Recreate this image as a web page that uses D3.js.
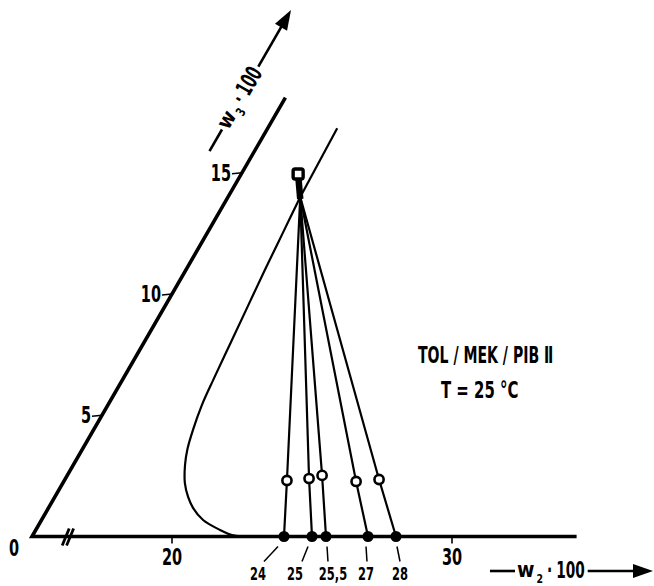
<!DOCTYPE html>
<html>
<head>
<meta charset="utf-8">
<script src="https://cdn.jsdelivr.net/npm/d3@7"></script>
<style>
  body { margin: 0; background: #fff; }
  text {
    font-family: "DejaVu Sans Condensed", "DejaVu Sans", sans-serif;
    font-weight: bold;
    fill: #000;
  }
</style>
</head>
<body>
<div id="chart"></div>
<script>
const width = 654;
const height = 586;

/* axes: w2 along the bottom, w3 along the 60 deg side */
const w2Ticks = [20, 30];
const w3Ticks = [5, 10, 15];
const w2Origin = 15; // drawn origin, labelled 0 (axis is broken)
const w2AxisEnd = 34.45;
const w2Break = 16.3;
const w3AxisEnd = 18.1;

/* tie lines: feed point on the w2 axis, open circle, common top */
const feedW2 = [24, 25, 25.5, 27, 28];
const feedLabels = ["24", "25", "25,5", "27", "28"];
const openW2 = [22.95, 23.7, 24.1, 25.44, 26.22];
const openW3 = [2.31, 2.39, 2.52, 2.27, 2.35];
const topW2 = 17.58;
const topW3 = 14.0;
const squareW2 = 17.04;
const squareW3 = 14.93;

/* binodal curve and its straight continuation */
const binodalW2 = [17.58, 17.7, 17.82, 17.96, 18.1, 18.24, 18.36, 18.55, 18.75,
  18.99, 19.36, 19.76, 20.16, 20.77, 21.58, 22.11, 22.5];
const binodalW3 = [14.0, 12.5, 11.0, 9.5, 8.0, 6.5, 5.4, 4.4, 3.6,
  2.95, 2.2, 1.63, 1.18, 0.68, 0.27, 0.06, 0];
const upperW2 = [17.58, 17.48];
const upperW3 = [14.0, 16.84];

const y0 = 536.5;
const squeeze = 0.7; // the lettering is narrow
const x = d3.scaleLinear().domain([20, 30]).range([172, 452]);
const r = d3.scaleLinear().domain([0, 10]).range([0, 280]);
const cos60 = Math.cos(Math.PI / 3),
  sin60 = Math.sin(Math.PI / 3);

function proj(w2, w3) {
  return [x(w2) + r(w3) * cos60, y0 - r(w3) * sin60];
}

// narrow a text element, returns the new length
function condense(el, f) {
  var len = el.getComputedTextLength() * (f || squeeze);
  d3.select(el).attr("textLength", len).attr("lengthAdjust", "spacingAndGlyphs");
  return len;
}

var svg = d3
  .select("#chart")
  .append("svg")
  .attr("width", width)
  .attr("height", height)
  .attr("viewBox", "0 0 " + width + " " + height);

var line = d3.line();

// axes
var gAxes = svg.append("g").attr("id", "axes");
gAxes
  .append("path")
  .attr("d", line([proj(w2Origin, w3AxisEnd), proj(w2Origin, 0), proj(w2AxisEnd, 0)]))
  .attr("fill", "none")
  .attr("stroke", "#000")
  .attr("stroke-width", 3.6)
  .attr("stroke-linejoin", "miter");

// break mark on the w2 axis
var bx = x(w2Break);
[-2.2, 2.2].forEach(function (o) {
  gAxes
    .append("line")
    .attr("x1", bx + o - 4)
    .attr("y1", y0 + 9)
    .attr("x2", bx + o + 3)
    .attr("y2", y0 - 8)
    .attr("stroke", "#000")
    .attr("stroke-width", 2.8);
});

gAxes
  .selectAll(".w2tick")
  .data(w2Ticks)
  .enter()
  .append("line")
  .attr("x1", (d) => x(d))
  .attr("x2", (d) => x(d))
  .attr("y1", y0)
  .attr("y2", y0 + 7)
  .attr("stroke", "#000")
  .attr("stroke-width", 1.6);

gAxes
  .selectAll(".w2label")
  .data(w2Ticks)
  .enter()
  .append("text")
  .attr("x", (d) => x(d))
  .attr("y", y0 + 28)
  .attr("text-anchor", "middle")
  .attr("font-size", 23)
  .text((d) => d)
  .each(function () { condense(this); });

gAxes
  .append("text")
  .attr("x", proj(w2Origin, 0)[0] - 18)
  .attr("y", y0 + 19)
  .attr("text-anchor", "middle")
  .attr("font-size", 23)
  .text("0")
  .each(function () { condense(this); });

gAxes
  .selectAll(".w3tick")
  .data(w3Ticks)
  .enter()
  .append("line")
  .attr("x1", (d) => proj(w2Origin, d)[0] - 10)
  .attr("x2", (d) => proj(w2Origin, d)[0])
  .attr("y1", (d) => proj(w2Origin, d)[1] + 1)
  .attr("y2", (d) => proj(w2Origin, d)[1])
  .attr("stroke", "#000")
  .attr("stroke-width", 1.6);

gAxes
  .selectAll(".w3label")
  .data(w3Ticks)
  .enter()
  .append("text")
  .attr("x", (d) => proj(w2Origin, d)[0] - 11)
  .attr("y", (d) => proj(w2Origin, d)[1] + 8)
  .attr("text-anchor", "end")
  .attr("font-size", 23)
  .text((d) => d)
  .each(function () { condense(this); });

// axis titles with arrows, built along a local x direction
function axisTitle(cx, cy, angle, sub) {
  var g = svg
    .append("g")
    .attr("transform", "translate(" + cx + "," + cy + ") rotate(" + angle + ")");
  g.append("line")
    .attr("x1", -81).attr("x2", -56).attr("y1", 0).attr("y2", 0)
    .attr("stroke", "#000").attr("stroke-width", 2.6);
  // pieces placed one after another so they never overlap
  var pieces = [
    { s: "w", size: 21, dy: 6, gap: 0, f: 1 },
    { s: sub, size: 13, dy: 12, gap: 1, f: 0.8 },
    { s: "·", size: 23, dy: 7, gap: 3, f: 0.66 },
    { s: "100", size: 23, dy: 7, gap: 3, f: 0.66 },
  ];
  var pos = -54;
  pieces.forEach(function (p) {
    pos += p.gap;
    var t = g.append("text").attr("x", pos).attr("y", p.dy).attr("font-size", p.size).text(p.s);
    pos += (p.f < 1 ? condense(t.node(), p.f) : t.node().getComputedTextLength()) + 1;
  });
  g.append("line")
    .attr("x1", pos + 2).attr("x2", 66).attr("y1", 0).attr("y2", 0)
    .attr("stroke", "#000").attr("stroke-width", 2.6);
  g.append("path")
    .attr("d", "M62,-7 L82,0 L62,7 Z")
    .attr("fill", "#000");
}
axisTitle(571, 571, 0, "2");
axisTitle(250, 81, -60, "3");

// binodal
var gCurve = svg.append("g").attr("id", "binodal");
gCurve
  .append("path")
  .attr("d", d3.line().curve(d3.curveCatmullRom)(binodalW2.map((d, i) => proj(d, binodalW3[i]))))
  .attr("fill", "none")
  .attr("stroke", "#000")
  .attr("stroke-width", 2.2);
gCurve
  .append("path")
  .attr("d", line(upperW2.map((d, i) => proj(d, upperW3[i]))))
  .attr("fill", "none")
  .attr("stroke", "#000")
  .attr("stroke-width", 2.2);

// tie lines
var gTie = svg.append("g").attr("id", "ties");
gTie
  .selectAll(".tie")
  .data(feedW2)
  .enter()
  .append("path")
  .attr("d", (d, i) => line([proj(d, 0), proj(openW2[i], openW3[i]), proj(topW2, topW3)]))
  .attr("fill", "none")
  .attr("stroke", "#000")
  .attr("stroke-width", 2.2);

// stem and square at the top
gTie
  .append("line")
  .attr("x1", proj(topW2, topW3)[0])
  .attr("y1", proj(topW2, topW3)[1] + 2)
  .attr("x2", proj(squareW2, squareW3)[0])
  .attr("y2", proj(squareW2, squareW3)[1])
  .attr("stroke", "#000")
  .attr("stroke-width", 6.5);
gTie
  .append("rect")
  .attr("x", proj(squareW2, squareW3)[0] - 5)
  .attr("y", proj(squareW2, squareW3)[1] - 5.5)
  .attr("width", 10)
  .attr("height", 10)
  .attr("rx", 2)
  .attr("fill", "#fff")
  .attr("stroke", "#000")
  .attr("stroke-width", 3.4);

gTie
  .selectAll(".feed")
  .data(feedW2)
  .enter()
  .append("circle")
  .attr("cx", (d) => proj(d, 0)[0])
  .attr("cy", y0)
  .attr("r", 5.5)
  .attr("fill", "#000");

gTie
  .selectAll(".open")
  .data(openW2)
  .enter()
  .append("circle")
  .attr("cx", (d, i) => proj(d, openW3[i])[0])
  .attr("cy", (d, i) => proj(d, openW3[i])[1])
  .attr("r", 4.6)
  .attr("fill", "#fff")
  .attr("stroke", "#000")
  .attr("stroke-width", 2.6);

// feed labels with short leaders
const leadFrom = [-6, -4, 1, -2, 1];
const leadTo = [-20, -10, 2, -1, 4];
const labelShift = [-26, -17, 7, -2, 4];
feedW2.forEach(function (d, i) {
  var px = x(d);
  gTie
    .append("line")
    .attr("x1", px + leadFrom[i])
    .attr("y1", y0 + 10)
    .attr("x2", px + leadTo[i])
    .attr("y2", y0 + 25)
    .attr("stroke", "#000")
    .attr("stroke-width", 1.5);
  gTie
    .append("text")
    .attr("x", px + labelShift[i])
    .attr("y", y0 + 43)
    .attr("text-anchor", "middle")
    .attr("font-size", 17)
    .text(feedLabels[i])
    .each(function () { condense(this, 0.75); });
});

// system note
svg
  .append("text")
  .attr("x", 418)
  .attr("y", 363)
  .attr("font-size", 23)
  .text("TOL / MEK / PIB \u2161")
  .each(function () { condense(this, 0.68); });
svg
  .append("text")
  .attr("x", 441)
  .attr("y", 398)
  .attr("font-size", 23)
  .text("T = 25 °C")
  .each(function () { condense(this, 0.72); });
</script>
</body>
</html>
